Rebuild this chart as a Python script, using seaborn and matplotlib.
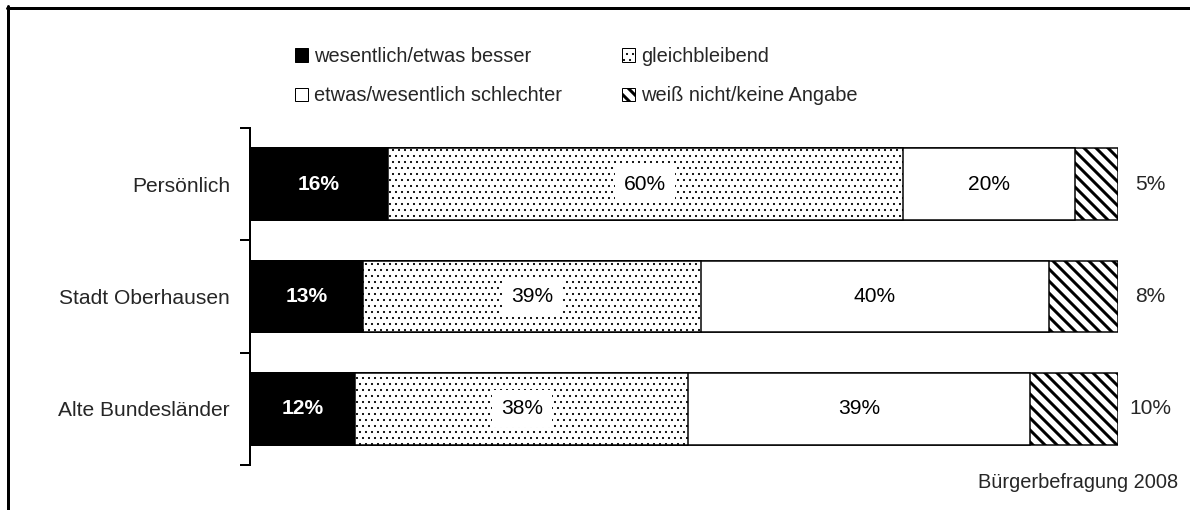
import matplotlib
matplotlib.use("Agg")
import matplotlib.pyplot as plt
from matplotlib.patches import Patch
from matplotlib.lines import Line2D
import numpy as np
import pandas as pd
import seaborn as sns

# data
groups = ["Persönlich", "Stadt Oberhausen", "Alte Bundesländer"]
besser = [16, 13, 12]
gleich = [60, 39, 38]
schlechter = [20, 40, 39]
weiss_nicht = [5, 8, 10]
series_names = ["wesentlich/etwas besser", "gleichbleibend",
                "etwas/wesentlich schlechter", "weiß nicht/keine Angabe"]
source_note = "Bürgerbefragung 2008"

sns.set_style("white")
plt.rcParams["font.family"] = ["Liberation Sans", "DejaVu Sans"]
plt.rcParams["hatch.linewidth"] = 3

vals = np.array([besser, gleich, schlechter, weiss_nicht], dtype=float)
shares = vals / vals.sum(axis=0) * 100
cum = np.cumsum(shares, axis=0)

df = pd.DataFrame({"group": groups})
for i in range(4):
    df[f"c{i}"] = cum[i]

fig = plt.figure(figsize=(1190 / 72, 510 / 72), dpi=72)
ax = fig.add_axes([250 / 1190, 1 - 465 / 510, 868 / 1190, 337 / 510])

styles = [
    dict(color="black", hatch=None),
    dict(color="white", hatch=".."),
    dict(color="white", hatch=None),
    dict(color="white", hatch="\\\\"),
]
# draw widest layer first, narrower ones on top
for i in [3, 2, 1, 0]:
    kw = dict(hatch=styles[i]["hatch"]) if styles[i]["hatch"] else {}
    n_before = len(ax.patches)
    sns.barplot(data=df, x=f"c{i}", y="group", orient="h", color=styles[i]["color"],
                saturation=1, width=0.64, edgecolor="black", linewidth=1.5, ax=ax, **kw)
    if i == 1:
        for p in ax.patches[n_before:]:
            if hasattr(p, "set_hatch_linewidth"):
                p.set_hatch_linewidth(0.9)

# value labels
for j in range(len(groups)):
    left = 0
    for i in range(4):
        mid = left + shares[i, j] / 2
        txt = f"{int(vals[i, j])}%"
        if i == 0:
            ax.text(mid, j, txt, ha="center", va="center", color="white",
                    fontweight="bold", fontsize=21)
        elif i == 1:
            ax.text(mid, j, txt, ha="center", va="center", color="black", fontsize=21,
                    bbox=dict(facecolor="white", edgecolor="none", pad=9))
        elif i == 2:
            ax.text(mid, j, txt, ha="center", va="center", color="black", fontsize=21)
        else:
            ax.annotate(txt, (100, j), xytext=(32, 0), textcoords="offset points",
                        ha="center", va="center", fontsize=21)
        left += shares[i, j]

ax.set_xlim(0, 100)
ax.set_ylim(2.5, -0.5)
ax.set_xlabel("")
ax.set_ylabel("")
ax.set_xticks([])
ax.set_yticks(range(len(groups)))
ax.set_yticklabels(groups, fontsize=21)
ax.set_yticks([-0.5, 0.5, 1.5, 2.5], minor=True)
ax.tick_params(axis="y", which="major", left=True, length=0, pad=20)
ax.tick_params(axis="y", which="minor", left=True, length=10, width=2,
               direction="out", color="black")
for s in ["top", "right", "bottom"]:
    ax.spines[s].set_visible(False)
ax.spines["left"].set_linewidth(2)
ax.spines["left"].set_color("black")
ax.patch.set_alpha(0)

handles = [
    Patch(facecolor="black", edgecolor="black", label=series_names[0]),
    Patch(facecolor="white", edgecolor="black", label=series_names[2]),
    Patch(facecolor="white", edgecolor="black", hatch="..", label=series_names[1]),
    Patch(facecolor="white", edgecolor="black", hatch="\\\\", label=series_names[3]),
]
leg = fig.legend(handles=handles, ncol=2, loc="upper left",
                 bbox_to_anchor=(295 / 1190, 1 - 47 / 510),
                 frameon=False, fontsize=20, handlelength=0.65, handleheight=0.65,
                 handletextpad=0.3, columnspacing=3.0, labelspacing=1.02,
                 borderpad=0, borderaxespad=0)
for h in leg.legend_handles:
    if h.get_hatch() == ".." and hasattr(h, "set_hatch_linewidth"):
        h.set_hatch_linewidth(0.9)

fig.text(1178 / 1190, 1 - 483 / 510, source_note, ha="right", va="center", fontsize=20)

# frame lines on top and left
fig.add_artist(Line2D([7 / 1190, 1], [1 - 7.5 / 510, 1 - 7.5 / 510], color="black", lw=3))
fig.add_artist(Line2D([7.5 / 1190, 7.5 / 1190], [0, 1 - 6 / 510], color="black", lw=3))

fig.savefig("out.png", dpi=72)
